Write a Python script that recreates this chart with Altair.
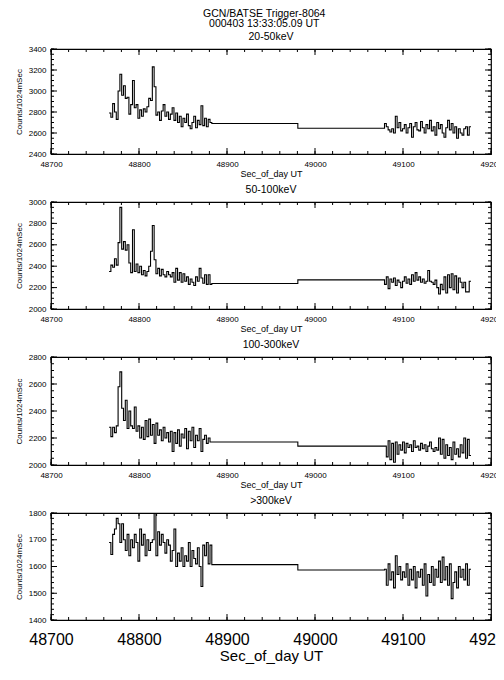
import altair as alt
import pandas as pd

FONT = "Liberation Sans"

# time layout of the bins (seconds of day)
DT = 2.048
A_START = 48766.0
FLAT2_START = 48980.5
B_START = 49079.0

TITLES = ["20-50keV", "50-100keV", "100-300keV", ">300keV"]
Y_DOMAINS = [(2400, 3400), (2000, 3000), (2000, 2800), (1400, 1800)]
Y_MAJOR = [200, 200, 200, 100]
Y_MINOR = [50, 50, 50, 20]
X_LABELS = [48700, 48800, 48900, 49000, 49100, 49200]
X_MINOR_STEP = 20

# ---- 20-50 keV ----
seg_a_1 = [2790, 2750, 2880, 2800, 2730, 3000, 3160, 2960, 3050, 2930,
           2940, 2780, 2870, 3100, 2840, 2870, 2740, 2820, 2760, 2830,
           2800, 2850, 2930, 2910, 3230, 3040, 2770, 2800, 2720, 2810,
           2870, 2760, 2800, 2730, 2780, 2840, 2720, 2790, 2700, 2760,
           2660, 2740, 2700, 2780, 2670, 2640, 2700, 2760, 2650, 2720,
           2680, 2860, 2670, 2740, 2660, 2730, 2700]
flat_1 = [2690, 2645]
seg_b_1 = [2690, 2660, 2630, 2610, 2640, 2600, 2760, 2650, 2700, 2620,
           2640, 2680, 2600, 2650, 2690, 2560, 2660, 2700, 2630, 2620,
           2710, 2650, 2600, 2680, 2640, 2720, 2620, 2660, 2580, 2700,
           2640, 2680, 2600, 2560, 2650, 2720, 2630, 2690, 2600, 2660,
           2550, 2640, 2600, 2580, 2640, 2660, 2580, 2660]

# ---- 50-100 keV ----
seg_a_2 = [2350, 2410, 2390, 2470, 2410, 2620, 2950, 2560, 2630, 2550,
           2600, 2430, 2340, 2740, 2350, 2420, 2340, 2400, 2320, 2360,
           2310, 2350, 2400, 2540, 2780, 2460, 2330, 2380, 2310, 2370,
           2320, 2300, 2350, 2320, 2300, 2340, 2250, 2380, 2270, 2340,
           2250, 2330, 2260, 2300, 2230, 2280, 2250, 2220, 2300, 2260,
           2380, 2290, 2240, 2320, 2230, 2320, 2230]
flat_2 = [2238, 2272]
seg_b_2 = [2230, 2300, 2190, 2280, 2250, 2290, 2220, 2270, 2250, 2200,
           2260, 2300, 2240, 2280, 2230, 2320, 2260, 2340, 2270, 2300,
           2250, 2280, 2240, 2260, 2360, 2260, 2250, 2230, 2270, 2200,
           2140, 2230, 2180, 2300, 2150, 2320, 2200, 2330, 2180, 2310,
           2150, 2290, 2250, 2200, 2250, 2160, 2160, 2260]

# ---- 100-300 keV ----
seg_a_3 = [2280, 2210, 2280, 2240, 2290, 2580, 2690, 2420, 2330, 2480,
           2270, 2400, 2290, 2270, 2430, 2250, 2290, 2200, 2280, 2190,
           2330, 2210, 2340, 2220, 2300, 2160, 2310, 2220, 2260, 2180,
           2280, 2200, 2240, 2170, 2250, 2100, 2240, 2160, 2260, 2140,
           2230, 2200, 2270, 2120, 2250, 2180, 2280, 2130, 2220, 2180,
           2270, 2100, 2190, 2220, 2160, 2200, 2170]
flat_3 = [2170, 2140]
seg_b_3 = [2140, 2060, 2180, 2040, 2160, 2020, 2170, 2080, 2150, 2110,
           2170, 2090, 2160, 2130, 2150, 2100, 2180, 2130, 2140, 2110,
           2160, 2120, 2150, 2100, 2140, 2170, 2120, 2100, 2130, 2110,
           2200, 2080, 2190, 2050, 2150, 2070, 2130, 2040, 2170, 2080,
           2120, 2060, 2150, 2090, 2200, 2050, 2190, 2070]

# ---- >300 keV ----
seg_a_4 = [1690, 1645, 1720, 1740, 1780, 1760, 1690, 1760, 1700, 1660,
           1720, 1640, 1700, 1670, 1720, 1690, 1620, 1740, 1680, 1720,
           1640, 1700, 1660, 1690, 1700, 1800, 1640, 1730, 1680, 1720,
           1690, 1650, 1700, 1680, 1620, 1660, 1740, 1600, 1650, 1620,
           1670, 1600, 1640, 1620, 1690, 1600, 1660, 1630, 1610, 1670,
           1600, 1525, 1680, 1640, 1690, 1610, 1680]
flat_4 = [1607, 1587]
seg_b_4 = [1590, 1530, 1610, 1550, 1580, 1520, 1640, 1570, 1600, 1550,
           1580, 1560, 1610, 1530, 1590, 1550, 1600, 1520, 1580, 1560,
           1590, 1530, 1610, 1490, 1570, 1540, 1600, 1530, 1590, 1560,
           1620, 1540, 1635, 1550, 1600, 1530, 1610, 1480, 1540, 1580,
           1520, 1600, 1560, 1590, 1550, 1610, 1530, 1590]

SERIES = [(seg_a_1, flat_1, seg_b_1), (seg_a_2, flat_2, seg_b_2),
          (seg_a_3, flat_3, seg_b_3), (seg_a_4, flat_4, seg_b_4)]

PANEL_W = 440
PANEL_H = [105, 107, 108, 107]
MAJOR_LEN = 6
MINOR_LEN = 3


def build_frame(seg_a, flats, seg_b):
    t, v = [], []
    for i, val in enumerate(seg_a):
        t.append(A_START + i * DT)
        v.append(val)
    t.append(A_START + len(seg_a) * DT)
    v.append(flats[0])
    t.append(FLAT2_START)
    v.append(flats[1])
    for i, val in enumerate(seg_b):
        t.append(B_START + i * DT)
        v.append(val)
    t.append(B_START + len(seg_b) * DT)
    v.append(seg_b[-1])
    return pd.DataFrame({"t": t, "v": v})


def panel(idx, last):
    seg_a, flats, seg_b = SERIES[idx]
    df = build_frame(seg_a, flats, seg_b)
    ymin, ymax = Y_DOMAINS[idx]
    H = PANEL_H[idx]
    xs = alt.Scale(domain=[48700, 49200], nice=False, zero=False)
    ys = alt.Scale(domain=[ymin, ymax], nice=False, zero=False)
    y_major = list(range(ymin, ymax + 1, Y_MAJOR[idx]))
    y_minor = list(range(ymin, ymax + 1, Y_MINOR[idx]))
    x_major = X_LABELS
    x_minor = list(range(48700, 49201, X_MINOR_STEP))

    lab_size = 16 if last else 8
    xt_size = 15 if last else 9

    x_axis = alt.Axis(
        title="Sec_of_day UT", values=x_major, format="d", ticks=False,
        domain=False, grid=False, labelFontSize=lab_size, labelFlush=False,
        labelPadding=11 if last else 6, titleFontSize=xt_size,
        titlePadding=1, titleFontWeight="normal",
        labelFont=FONT, titleFont=FONT, labelColor="black",
        titleColor="black")
    y_axis = alt.Axis(
        title="Counts/1024mSec", values=y_major, format="d", ticks=False,
        domain=False, grid=False, labelFontSize=8, labelPadding=5,
        titleFontSize=8, titlePadding=5, titleFontWeight="normal",
        labelFont=FONT, titleFont=FONT, labelColor="black",
        titleColor="black")

    main = alt.Chart(df).mark_line(interpolate="step-after", color="black",
                                   strokeWidth=1.1, clip=True).encode(
        x=alt.X("t:Q", scale=xs, axis=x_axis),
        y=alt.Y("v:Q", scale=ys, axis=y_axis),
    )

    def xticks(vals, length):
        d = pd.DataFrame({"t": vals})
        bottom = alt.Chart(d).mark_rule(color="black", strokeWidth=1).encode(
            x=alt.X("t:Q", scale=xs, axis=x_axis),
            y=alt.value(H), y2=alt.value(H - length))
        top = alt.Chart(d).mark_rule(color="black", strokeWidth=1).encode(
            x=alt.X("t:Q", scale=xs, axis=x_axis),
            y=alt.value(0), y2=alt.value(length))
        return [bottom, top]

    def yticks(vals, length):
        d = pd.DataFrame({"v": vals})
        left = alt.Chart(d).mark_rule(color="black", strokeWidth=1).encode(
            y=alt.Y("v:Q", scale=ys, axis=y_axis),
            x=alt.value(0), x2=alt.value(length))
        right = alt.Chart(d).mark_rule(color="black", strokeWidth=1).encode(
            y=alt.Y("v:Q", scale=ys, axis=y_axis),
            x=alt.value(PANEL_W), x2=alt.value(PANEL_W - length))
        return [left, right]

    layers = ([main] + xticks(x_major, MAJOR_LEN) + xticks(x_minor, MINOR_LEN)
              + yticks(y_major, MAJOR_LEN) + yticks(y_minor, MINOR_LEN))
    return alt.layer(*layers).properties(
        width=PANEL_W, height=H,
        title=alt.TitleParams(TITLES[idx], fontSize=10.5, fontWeight="normal",
                              font=FONT, offset=3, color="black"),
    )


panels = [panel(i, i == 3) for i in range(4)]

chart = alt.vconcat(*panels, spacing=4).properties(
    title=alt.TitleParams(["GCN/BATSE  Trigger-8064", "000403 13:33:05.09 UT"],
                          fontSize=10.5, fontWeight="normal", font=FONT,
                          lineHeight=10.5, offset=1, color="black",
                          anchor="middle"),
    padding={"left": 6, "top": 0, "right": -18, "bottom": 0},
).configure_view(stroke="black", strokeWidth=1.2)

chart.save("out.html", embed_options={"renderer": "svg", "actions": False})
